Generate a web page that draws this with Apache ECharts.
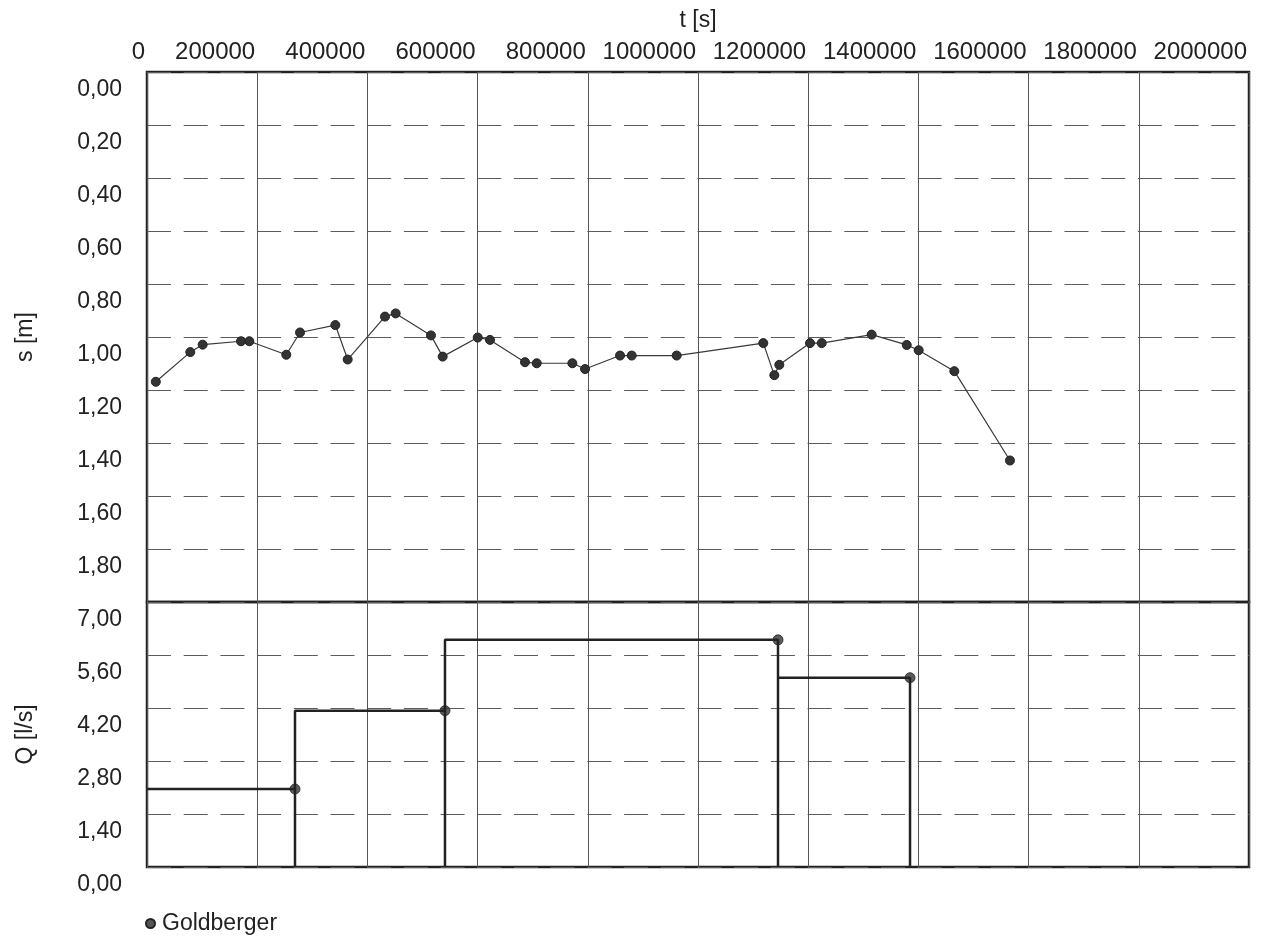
<!DOCTYPE html>
<html>
<head>
<meta charset="utf-8">
<script src="https://cdn.jsdelivr.net/npm/echarts@6/dist/echarts.min.js"></script>
<style>
html,body{margin:0;padding:0;background:#fff;}
#chart{width:1268px;height:939px;}
</style>
</head>
<body>
<div id="chart"></div>
<script>
// Drawdown s [m] vs time t [s] (Goldberger)
var sTimes = [16000, 78600, 101000, 170600, 185700, 252800, 277700, 341800, 364200, 431900,
              451300, 515400, 536600, 600200, 622500, 686000, 707300, 772000, 795000, 858500,
              879700, 961300, 1118500, 1138500, 1147600, 1203300, 1224500, 1315200, 1378800,
              1400500, 1465200, 1566200];
var sValues = [1.169, 1.057, 1.029, 1.016, 1.016, 1.067, 0.983, 0.955, 1.085, 0.923,
               0.911, 0.994, 1.074, 1.002, 1.011, 1.095, 1.099, 1.099, 1.121, 1.070,
               1.070, 1.070, 1.023, 1.144, 1.105, 1.023, 1.023, 0.991, 1.030,
               1.050, 1.129, 1.466];
// Pumping rate Q [l/s] steps: boundaries and rates
var qTimes = [0, 268600, 540800, 1145200, 1384800];
var qValues = [2.06, 4.13, 6.0, 5.0];
// Axis ticks
var tTicks = {min: 0, max: 2000000, interval: 200000};
var sTicks = {min: 0, max: 2.0, interval: 0.2};
var qTicks = {min: 0, max: 7.0, interval: 1.4};
var seriesName = 'Goldberger';

var sData = sTimes.map(function (t, i) { return [t, sValues[i]]; });
var qLine = [];
var qMarks = [];
for (var i = 0; i < qValues.length; i++) {
  if (i > 0) qLine.push([qTimes[i], 0]);
  qLine.push([qTimes[i], qValues[i]]);
  qLine.push([qTimes[i + 1], qValues[i]]);
  qMarks.push([qTimes[i + 1], qValues[i]]);
}
qLine.push([qTimes[qTimes.length - 1], 0]);

var FONT = '"Liberation Sans", Arial, sans-serif';
var TXT = '#222';
function fmtComma(v) { return v.toFixed(2).replace('.', ','); }
var dashed = {color: '#5c5c5c', width: 1.2, type: [24, 12.7]};
var solid = {color: '#555', width: 1};

var chart = echarts.init(document.getElementById('chart'), null, {renderer: 'canvas'});
chart.setOption({
  animation: false,
  backgroundColor: '#fff',
  textStyle: {fontFamily: FONT, color: TXT},
  grid: [
    {left: 147, top: 72, width: 1102, height: 530, show: true, borderColor: '#222', borderWidth: 2.5, backgroundColor: 'transparent'},
    {left: 147, top: 602, width: 1102, height: 265, show: true, borderColor: '#222', borderWidth: 2.5, backgroundColor: 'transparent'}
  ],
  legend: {
    data: [seriesName],
    left: 140, top: 907,
    icon: 'circle', itemWidth: 9, itemHeight: 9, itemGap: 6,
    itemStyle: {color: '#555'},
    textStyle: {fontFamily: FONT, fontSize: 23, color: TXT, padding: [0, 0, 0, 2]}
  },
  xAxis: [
    {
      type: 'value', gridIndex: 0, position: 'top',
      min: tTicks.min, max: tTicks.max, interval: tTicks.interval,
      name: 't [s]', nameLocation: 'middle', nameGap: 40,
      nameTextStyle: {fontFamily: FONT, fontSize: 23, color: TXT},
      axisLine: {show: false}, axisTick: {show: false},
      axisLabel: {fontFamily: FONT, fontSize: 24, color: TXT, align: 'right', margin: 8, padding: [0, 2, 0, 0],
                  formatter: function (v) { return String(v); }},
      splitLine: {show: true, lineStyle: solid}
    },
    {
      type: 'value', gridIndex: 1,
      min: tTicks.min, max: tTicks.max, interval: tTicks.interval,
      axisLine: {show: false}, axisTick: {show: false}, axisLabel: {show: false},
      splitLine: {show: true, lineStyle: solid}
    }
  ],
  yAxis: [
    {
      type: 'value', gridIndex: 0, inverse: true,
      min: sTicks.min, max: sTicks.max, interval: sTicks.interval,
      name: 's [m]', nameLocation: 'middle', nameRotate: 90, nameGap: 110,
      nameTextStyle: {fontFamily: FONT, fontSize: 23, color: TXT},
      axisLine: {show: false}, axisTick: {show: false},
      axisLabel: {fontFamily: FONT, fontSize: 23, color: TXT, margin: 25, verticalAlign: 'top',
                  padding: [6, 0, 0, 0], showMaxLabel: false, formatter: fmtComma},
      splitLine: {show: true, lineStyle: dashed}
    },
    {
      type: 'value', gridIndex: 1,
      min: qTicks.min, max: qTicks.max, interval: qTicks.interval,
      name: 'Q [l/s]', nameLocation: 'middle', nameRotate: 90, nameGap: 110,
      nameTextStyle: {fontFamily: FONT, fontSize: 23, color: TXT},
      axisLine: {show: false}, axisTick: {show: false},
      axisLabel: {fontFamily: FONT, fontSize: 23, color: TXT, margin: 25, verticalAlign: 'top',
                  padding: [6, 0, 0, 0], showMaxLabel: true, formatter: fmtComma},
      splitLine: {show: true, lineStyle: dashed}
    }
  ],
  series: [
    {
      name: seriesName, type: 'line', xAxisIndex: 0, yAxisIndex: 0,
      data: sData, symbol: 'circle', symbolSize: 9, showAllSymbol: true,
      lineStyle: {color: '#3a3a3a', width: 1.2},
      itemStyle: {color: '#333', borderColor: '#222', borderWidth: 1}
    },
    {
      name: 'Q', type: 'line', xAxisIndex: 1, yAxisIndex: 1,
      data: qLine, showSymbol: false, symbol: 'none',
      lineStyle: {color: '#222', width: 2.5}
    },
    {
      name: 'Qmarks', type: 'scatter', xAxisIndex: 1, yAxisIndex: 1,
      data: qMarks, symbol: 'circle', symbolSize: 10,
      itemStyle: {color: '#333', borderColor: '#222', borderWidth: 1}
    }
  ]
});
</script>
</body>
</html>
